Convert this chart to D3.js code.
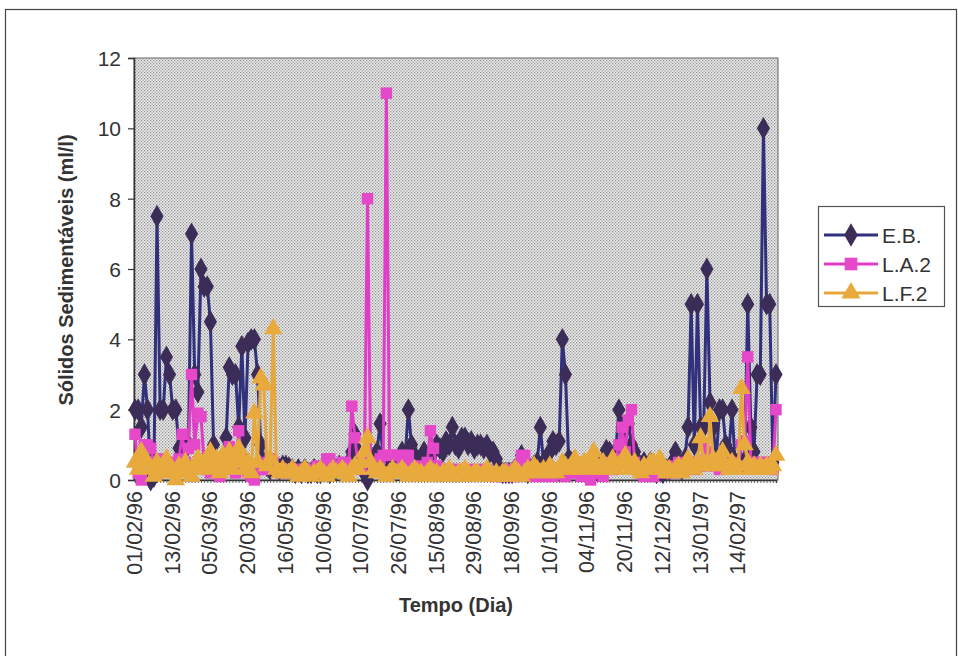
<!DOCTYPE html>
<html><head><meta charset="utf-8">
<script src="https://cdn.jsdelivr.net/npm/d3@7"></script>
<style>body{margin:0;background:#fff}svg{display:block}text{font-family:"Liberation Sans",Arial,sans-serif;fill:#333}</style>
</head><body>
<svg id="c" width="958" height="656"></svg>
<script>
const seriesNames = ["E.B.", "L.A.2", "L.F.2"];
const tickLabels = ["01/02/96","13/02/96","05/03/96","20/03/96","16/05/96","10/06/96","10/07/96","26/07/96","15/08/96","29/08/96","18/09/96","10/10/96","04/11/96","20/11/96","12/12/96","13/01/97","14/02/97"];
const labelEvery = 12;
const yTicks = [0,2,4,6,8,10,12];
const EB = [2.0,2.0,1.5,3.0,2.0,0.0,0.1,7.5,2.0,2.0,3.5,3.0,2.0,2.0,0.9,0.8,1.0,1.0,7.0,3.0,
2.5,6.0,5.5,5.5,4.5,1.0,0.5,0.3,0.5,1.2,3.2,3.0,3.0,1.5,3.8,1.2,3.9,4.0,4.0,3.0,
1.0,0.5,0.4,0.3,0.4,0.35,0.3,0.4,0.4,0.35,0.3,0.2,0.3,0.2,0.3,0.2,0.2,0.3,0.2,0.2,
0.3,0.3,0.2,0.3,0.3,0.4,0.3,0.3,0.5,0.8,1.3,0.8,0.6,0.2,0.0,0.5,0.5,0.8,1.6,0.6,
0.4,0.4,0.3,0.5,0.6,0.8,0.7,2.0,1.0,0.7,0.5,0.6,0.8,0.5,0.6,0.8,1.0,0.9,0.8,1.1,
1.0,1.5,1.0,0.9,1.2,1.2,1.0,1.1,0.9,1.0,1.0,0.9,1.0,0.8,0.8,0.6,0.3,0.2,0.2,0.2,
0.2,0.3,0.3,0.7,0.3,0.2,0.3,0.4,0.5,1.5,0.5,0.4,0.8,1.1,1.0,1.1,4.0,3.0,0.6,0.5,
0.4,0.4,0.35,0.3,0.3,0.2,0.3,0.3,0.4,0.5,0.85,0.8,0.5,0.8,2.0,1.5,1.5,1.6,1.0,0.8,
0.5,0.4,0.5,0.3,0.5,0.3,0.2,0.3,0.2,0.3,0.3,0.5,0.8,0.5,0.3,0.6,1.5,5.0,1.0,5.0,
1.5,1.5,6.0,2.2,1.5,0.6,2.0,2.0,1.0,0.8,2.0,0.5,0.5,0.5,0.5,5.0,1.5,0.8,3.0,3.0,
10.0,5.0,5.0,0.5,3.0];
const LA2 = [1.3,0.2,0.0,1.0,1.0,0.9,0.5,0.2,0.6,0.5,0.3,0.5,0.4,0.4,0.6,1.3,0.5,0.9,3.0,1.0,
1.9,1.8,0.5,0.3,0.2,0.5,0.3,0.1,0.5,0.3,0.95,0.5,0.2,1.4,0.6,0.3,0.2,0.1,0.0,0.3,
0.3,0.3,0.5,0.6,0.5,0.3,0.3,0.2,0.3,0.3,0.2,0.3,0.3,0.2,0.3,0.3,0.2,0.3,0.4,0.3,
0.4,0.6,0.6,0.3,0.4,0.4,0.5,0.5,0.4,2.1,1.2,0.4,0.3,0.5,8.0,0.5,0.3,0.4,0.6,0.7,
11.0,0.7,0.7,0.7,0.7,0.5,0.7,0.7,0.4,0.3,0.3,0.4,0.3,0.5,1.4,0.9,0.4,0.3,0.3,0.2,
0.3,0.3,0.2,0.3,0.2,0.2,0.3,0.2,0.2,0.3,0.2,0.2,0.3,0.2,0.2,0.1,0.2,0.1,0.2,0.3,
0.2,0.1,0.4,0.7,0.7,0.4,0.2,0.1,0.3,0.2,0.1,0.3,0.2,0.1,0.2,0.3,0.2,0.1,0.2,0.3,
0.2,0.4,0.1,0.3,0.1,0.0,0.2,0.4,0.2,0.1,0.3,0.5,0.3,0.6,1.0,1.5,0.8,1.7,2.0,0.5,
0.3,0.2,0.1,0.3,0.2,0.1,0.3,0.2,0.3,0.2,0.4,0.3,0.2,0.5,0.4,0.3,0.5,0.4,0.3,0.5,
0.4,1.0,0.8,0.5,0.4,0.5,0.3,0.5,0.4,0.5,0.4,0.5,0.4,1.0,1.1,3.5,0.5,0.5,0.4,0.5,
0.5,0.4,0.5,0.3,2.0];
const LF2 = [0.5,0.3,0.8,0.6,0.5,0.3,0.1,0.5,0.3,0.2,0.6,0.3,0.2,0.0,0.4,0.2,0.5,0.3,0.1,0.4,
0.6,0.3,0.5,0.4,0.8,0.3,0.6,0.2,0.7,0.4,0.8,0.3,0.5,0.9,0.6,0.3,0.5,0.2,1.9,0.5,
2.9,2.7,0.4,0.6,4.3,0.3,0.2,0.3,0.2,0.2,0.3,0.2,0.1,0.2,0.3,0.2,0.1,0.2,0.2,0.3,
0.2,0.1,0.2,0.3,0.2,0.2,0.3,0.2,0.1,0.3,0.4,0.3,0.5,0.8,1.2,0.5,0.3,0.2,0.3,0.2,
0.1,0.2,0.3,0.2,0.2,0.3,0.2,0.1,0.2,0.3,0.2,0.2,0.1,0.2,0.3,0.2,0.2,0.1,0.2,0.2,
0.3,0.2,0.1,0.2,0.2,0.3,0.2,0.1,0.2,0.2,0.1,0.2,0.3,0.2,0.1,0.2,0.1,0.2,0.2,0.1,
0.2,0.3,0.2,0.1,0.2,0.3,0.2,0.4,0.3,0.2,0.3,0.2,0.4,0.3,0.2,0.3,0.5,0.4,0.3,0.4,
0.6,0.3,0.4,0.5,0.3,0.5,0.8,0.4,0.3,0.5,0.3,0.4,0.6,0.3,0.4,0.5,0.7,0.4,0.3,0.5,
0.3,0.2,0.4,0.3,0.5,0.5,0.3,0.6,0.3,0.2,0.3,0.2,0.3,0.4,0.2,0.3,0.6,0.4,0.3,0.5,
1.2,0.5,0.4,1.8,0.6,0.4,0.5,0.8,0.4,0.3,0.5,0.3,0.4,2.6,1.0,0.5,0.3,0.4,0.3,0.4,
0.3,0.4,0.3,0.4,0.7];

const svg = d3.select("#c");
const L = 134, R = 778, T = 58, B = 480;
const N = EB.length;

// outer frame
svg.append("rect").attr("x",5.5).attr("y",9.5).attr("width",951).attr("height",660)
  .attr("fill","none").attr("stroke","#444").attr("stroke-width",1.2);

// dotted pattern
const defs = svg.append("defs");
const pat = defs.append("pattern").attr("id","dots").attr("patternUnits","userSpaceOnUse")
  .attr("width",3).attr("height",3);
pat.append("rect").attr("width",3).attr("height",3).attr("fill","#ececec");
pat.append("rect").attr("x",0).attr("y",0).attr("width",1.2).attr("height",1.2).attr("fill","#8c8c8c");
pat.append("rect").attr("x",1.5).attr("y",1.5).attr("width",1.2).attr("height",1.2).attr("fill","#8c8c8c");

svg.append("rect").attr("x",L).attr("y",T).attr("width",R-L).attr("height",B-T)
  .attr("fill","url(#dots)").attr("stroke","#666").attr("stroke-width",1);

const x = d3.scalePoint().domain(d3.range(N)).range([L+1, R-2]);
const y = d3.scaleLinear().domain([0,12]).range([B, T]);

// y axis
const yAx = svg.append("g").attr("transform",`translate(${L},0)`)
  .call(d3.axisLeft(y).tickValues(yTicks).tickSize(6).tickPadding(7).tickFormat(d3.format("d")));
yAx.select(".domain").attr("stroke","#333").attr("stroke-width",1.5);
yAx.selectAll(".tick line").attr("stroke","#333").attr("stroke-width",1.2);
yAx.selectAll("text").attr("font-size",21).attr("fill","#333").attr("dy","0.36em");

// x axis minor ticks
const xAx = svg.append("g").attr("transform",`translate(0,${B})`)
  .call(d3.axisBottom(x).tickSize(3).tickFormat(""));
xAx.select(".domain").attr("stroke","#333").attr("stroke-width",1.5);
xAx.selectAll(".tick line").attr("stroke","#444").attr("stroke-width",0.8);

// x labels
svg.append("g").selectAll("text").data(tickLabels).join("text")
  .attr("transform",(d,i)=>`translate(${x(i*labelEvery)+7},${B+11}) rotate(-90)`)
  .attr("text-anchor","end").attr("font-size",21.5).attr("fill","#333").text(d=>d);

// axis titles
svg.append("text").attr("x",456).attr("y",612).attr("text-anchor","middle")
  .attr("font-size",20).attr("font-weight","bold").attr("fill","#333").text("Tempo (Dia)");
svg.append("text").attr("transform","translate(73,270) rotate(-90)").attr("text-anchor","middle")
  .attr("font-size",20).attr("font-weight","bold").attr("fill","#333").text("Sólidos Sedimentáveis (ml/l)");

const series = [
  {name:seriesNames[0], values:EB, line:"#30307c", fill:"#3b2c58", sym:d3.symbolDiamond, size:150},
  {name:seriesNames[1], values:LA2, line:"#e03cc8", fill:"#e548c9", sym:d3.symbolSquare, size:130},
  {name:seriesNames[2], values:LF2, line:"#e6a83a", fill:"#e8aa3c", sym:d3.symbolTriangle, size:150}
];
const line = d3.line().x((d,i)=>x(i)).y(d=>y(d));
const plot = svg.append("g");
series.forEach(s=>{
  plot.append("path").datum(s.values).attr("d",line).attr("fill","none")
    .attr("stroke",s.line).attr("stroke-width",3).attr("stroke-linejoin","round");
  plot.append("g").selectAll("path").data(s.values).join("path")
    .attr("transform",(d,i)=>`translate(${x(i)},${y(d)})`)
    .attr("d",d3.symbol().type(s.sym).size(s.size)).attr("fill",s.fill);
});

// legend
const lg = svg.append("g");
lg.append("rect").attr("x",818.5).attr("y",206.5).attr("width",126).attr("height",100)
  .attr("fill","#fff").attr("stroke","#555").attr("stroke-width",1.2);
series.forEach((s,k)=>{
  const yy = 235 + k*29;
  lg.append("line").attr("x1",824).attr("x2",878).attr("y1",yy).attr("y2",yy)
    .attr("stroke",s.line).attr("stroke-width",3);
  lg.append("path").attr("transform",`translate(851,${yy})`)
    .attr("d",d3.symbol().type(s.sym).size(160)).attr("fill",s.fill);
  lg.append("text").attr("x",882).attr("y",yy).attr("dy","0.36em").attr("font-size",21)
    .attr("fill","#333").text(s.name);
});
</script>
</body></html>
